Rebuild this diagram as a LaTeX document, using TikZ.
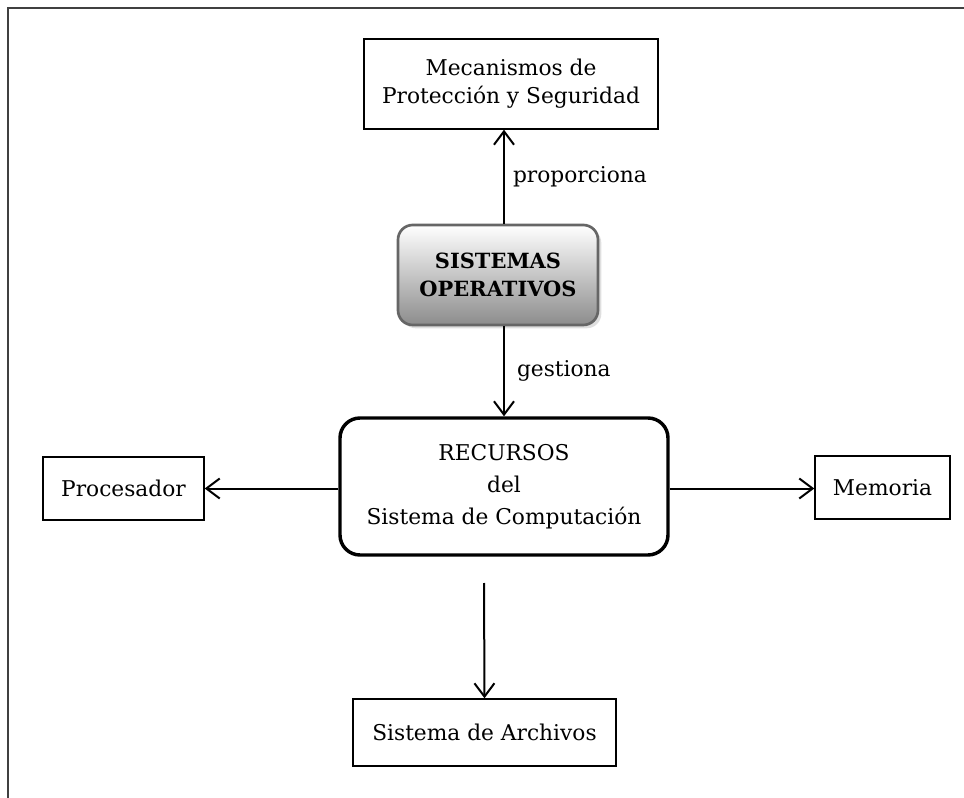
\documentclass[tikz,border=0pt]{standalone}
\usepackage{fontspec}
\setmainfont{DejaVu Serif}
\usetikzlibrary{arrows.meta,shadows}
\tikzset{
  plainbox/.style={draw=black, line width=1.1pt, align=center, inner sep=0pt,
    font=\fontsize{16.3}{21}\selectfont},
  recbox/.style={draw=black, line width=2.6pt, rounded corners=15pt, align=center,
    inner sep=0pt, font=\fontsize{16.3}{24}\selectfont},
  sobox/.style={draw=black!60, line width=2pt, rounded corners=11pt, align=center,
    inner sep=0pt, top color=white, bottom color=black!45,
    drop shadow={opacity=0.25, shadow xshift=2.5pt, shadow yshift=-2.5pt},
    font=\fontsize{15.7}{21}\selectfont\bfseries},
  lbl/.style={anchor=west, inner sep=0pt, font=\fontsize{16.3}{20}\selectfont},
  arr/.style={line width=1.5pt,
    -{Straight Barb[length=10pt,width=15pt,line width=1.5pt]}},
  frameline/.style={line width=1.5pt, black!75}
}
\begin{document}
\begin{tikzpicture}[x=0.75pt,y=-0.75pt]
\useasboundingbox (0,0) rectangle (964,798);
\draw[frameline] (8,798) -- (8,8) -- (964,8);

\node[plainbox, minimum width=294*0.75pt, minimum height=90*0.75pt] (mec) at (511,84)
  {Mecanismos de\\Protección y Seguridad};
\node[sobox, minimum width=200*0.75pt, minimum height=100*0.75pt] (so) at (498,275)
  {SISTEMAS\\OPERATIVOS};
\node[recbox, minimum width=328*0.75pt, minimum height=137*0.75pt] (rec) at (504,486.5)
  {RECURSOS\\del\\Sistema de Computación};
\node[plainbox, minimum width=161*0.75pt, minimum height=63*0.75pt] (proc) at (123.5,488.5)
  {Procesador};
\node[plainbox, minimum width=135*0.75pt, minimum height=63*0.75pt] (mem) at (882.5,487.5)
  {Memoria};
\node[plainbox, minimum width=263*0.75pt, minimum height=67*0.75pt] (arch) at (484.5,732.5)
  {Sistema de Archivos};

\draw[arr] (so.north -| rec.north) -- (mec.south -| rec.north)
  node[lbl, pos=0.5, xshift=6pt] (lp) {proporciona};
\draw[arr] (so.south -| rec.north) -- (rec.north)
  node[lbl, pos=0.5, xshift=9pt] (lg) {gestiona};
\draw[arr] (proc.east -| rec.west) -- (proc.east);
\draw[arr] (proc.east -| rec.east) -- (mem.west |- proc.east);
\coordinate (dstart) at (484,583);
\draw[arr] (dstart) -- (arch.north);
\end{tikzpicture}
\end{document}
